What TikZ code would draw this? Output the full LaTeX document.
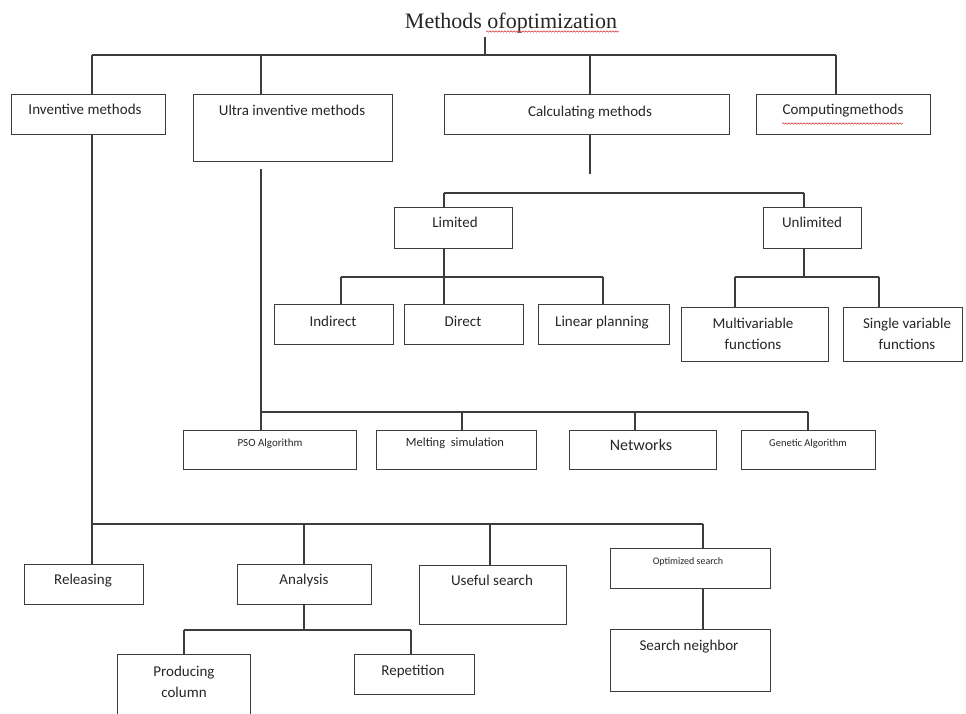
\documentclass[tikz,border=0pt]{standalone}
\usepackage{fontspec}
\setmainfont{Carlito}
\newfontfamily\titlefont{Liberation Serif}
\usetikzlibrary{decorations.pathmorphing}
\definecolor{ink}{HTML}{262626}
\definecolor{rule}{HTML}{3C3C3C}
\definecolor{spell}{HTML}{D03030}
\tikzset{
  box/.style={draw=rule,line width=1.2pt,inner sep=0pt,anchor=north west},
  lbl/.style={text=ink,inner sep=0pt,align=center,text height=10pt,text depth=3pt,font=\fontsize{15}{21}\selectfont},
  tiny/.style={font=\fontsize{#1}{13}\selectfont,text height=7pt,text depth=2pt},
  wire/.style={draw=rule,line width=1.2pt},
  wavy/.style={draw=spell,line width=0.5pt,decorate,decoration={snake,amplitude=0.7pt,segment length=3pt}}
}
\begin{document}
\begin{tikzpicture}[x=1pt,y=-1pt]
\fill[white] (0,0) rectangle (966,713);
\clip (0,0) rectangle (966,713);

\node[inner sep=0pt,anchor=base,text=black!85,font=\titlefont\fontsize{22}{26}\selectfont] (title) at (511,28) {Methods ofoptimization};
\draw[wavy] (486,31.5) -- (619,31.5);

% first row
\node[box,minimum width=154pt,minimum height=40pt] (inv) at (11,94) {};
\node[box,minimum width=199pt,minimum height=67pt] (ultra) at (193,94) {};
\node[box,minimum width=285pt,minimum height=40pt] (calc) at (444,94) {};
\node[box,minimum width=174pt,minimum height=40pt] (comp) at (756,94) {};
\node[lbl] (inv-t) at (85,111) {Inventive methods};
\node[lbl] (ultra-t) at (292,112) {Ultra inventive methods};
\node[lbl] (calc-t) at (590,113) {Calculating methods};
\node[lbl] (comp-t) at (843,111) {Computingmethods};
\draw[wavy] (782,123.5) -- (903,123.5);

\coordinate (tip) at (485,37);
\coordinate (hub) at (485,55);
\draw[wire] (tip) -- (hub);
\draw[wire] (92,55) -- (836,55);
\foreach \x/\n in {92/inv,261/ultra,590/calc,836/comp}
  \draw[wire] (\x,55) -- (\x,55 |- \n.north);

% calculating methods
\node[box,minimum width=118pt,minimum height=41pt] (lim) at (394,207) {};
\node[box,minimum width=98pt,minimum height=41pt] (unl) at (763,207) {};
\node[lbl] (lim-t) at (455,224) {Limited};
\node[lbl] (unl-t) at (812,224) {Unlimited};
\node[box,minimum width=119pt,minimum height=40pt] (ind) at (274,304) {};
\node[box,minimum width=119pt,minimum height=40pt] (dir) at (404,304) {};
\node[box,minimum width=131pt,minimum height=40pt] (lin) at (538,304) {};
\node[box,minimum width=147pt,minimum height=54pt] (mul) at (681,307) {};
\node[box,minimum width=119pt,minimum height=54pt] (sgl) at (843,307) {};
\node[lbl] (ind-t) at (333,323) {Indirect};
\node[lbl] (dir-t) at (463,323) {Direct};
\node[lbl] (lin-t) at (602,323) {Linear planning};
\node[lbl] (mul-t) at (753,346) {Multivariable\\functions};
\node[lbl] (sgl-t) at (907,346) {Single variable\\functions};

\coordinate (calc-end) at (590,174);
\draw[wire] (calc.south -| calc-end) -- (calc-end);
\draw[wire] (444,193) -- (804,193);
\draw[wire] (444,193) -- (444,193 |- lim.north);
\draw[wire] (804,193) -- (804,193 |- unl.north);
\draw[wire] (lim.south -| 444,0) -- (444,0 |- dir.north);
\draw[wire] (341,277) -- (603,277);
\draw[wire] (341,277) -- (341,277 |- ind.north);
\draw[wire] (603,277) -- (603,277 |- lin.north);
\draw[wire] (unl.south -| 804,0) -- (804,277);
\draw[wire] (735,277) -- (879,277);
\draw[wire] (735,277) -- (735,277 |- mul.north);
\draw[wire] (879,277) -- (879,277 |- sgl.north);

% ultra inventive methods
\node[box,minimum width=173pt,minimum height=39pt] (pso) at (183,430) {};
\node[box,minimum width=160pt,minimum height=39pt] (mel) at (376,430) {};
\node[box,minimum width=147pt,minimum height=39pt] (net) at (569,430) {};
\node[box,minimum width=134pt,minimum height=39pt] (gen) at (741,430) {};
\node[lbl,tiny=11] (pso-t) at (270,444) {PSO Algorithm};
\node[lbl,tiny=12.5] (mel-t) at (455,444) {Melting\ \ simulation};
\node[lbl,font=\fontsize{16}{20}\selectfont] (net-t) at (641,447) {Networks};
\node[lbl,tiny=10.5] (gen-t) at (808,444) {Genetic Algorithm};

\draw[wire] (ultra.south -| 261,0) ++(0,7) -- (261,0 |- pso.north);
\draw[wire] (261,412) -- (808,412);
\foreach \x/\n in {462/mel,635/net,808/gen}
  \draw[wire] (\x,412) -- (\x,412 |- \n.north);

% inventive methods
\node[box,minimum width=119pt,minimum height=40pt] (rel) at (24,564) {};
\node[box,minimum width=134pt,minimum height=40pt] (ana) at (237,564) {};
\node[box,minimum width=147pt,minimum height=59pt] (use) at (419,565) {};
\node[box,minimum width=160pt,minimum height=40pt] (opt) at (610,548) {};
\node[box,minimum width=160pt,minimum height=62pt] (nbr) at (610,629) {};
\node[box,minimum width=133pt,minimum height=66pt] (prd) at (117,654) {};
\node[box,minimum width=120pt,minimum height=40pt] (rep) at (354,654) {};
\node[lbl] (rel-t) at (83,581) {Releasing};
\node[lbl] (ana-t) at (304,581) {Analysis};
\node[lbl] (use-t) at (492,582) {Useful search};
\node[lbl,tiny=10] (opt-t) at (688,562) {Optimized search};
\node[lbl] (nbr-t) at (689,647) {Search neighbor};
\node[lbl] (prd-t) at (184,694) {Producing\\column};
\node[lbl] (rep-t) at (413,672) {Repetition};

\draw[wire] (inv.south -| 92,0) -- (92,524);
\draw[wire] (92,524) -- (703,524);
\foreach \x/\n in {92/rel,304/ana,490/use,703/opt}
  \draw[wire] (\x,524) -- (\x,524 |- \n.north);
\draw[wire] (opt.south -| 703,0) -- (703,0 |- nbr.north);
\draw[wire] (ana.south -| 304,0) -- (304,630);
\draw[wire] (184,630) -- (411,630);
\draw[wire] (184,630) -- (184,630 |- prd.north);
\draw[wire] (411,630) -- (411,630 |- rep.north);
\end{tikzpicture}
\end{document}
